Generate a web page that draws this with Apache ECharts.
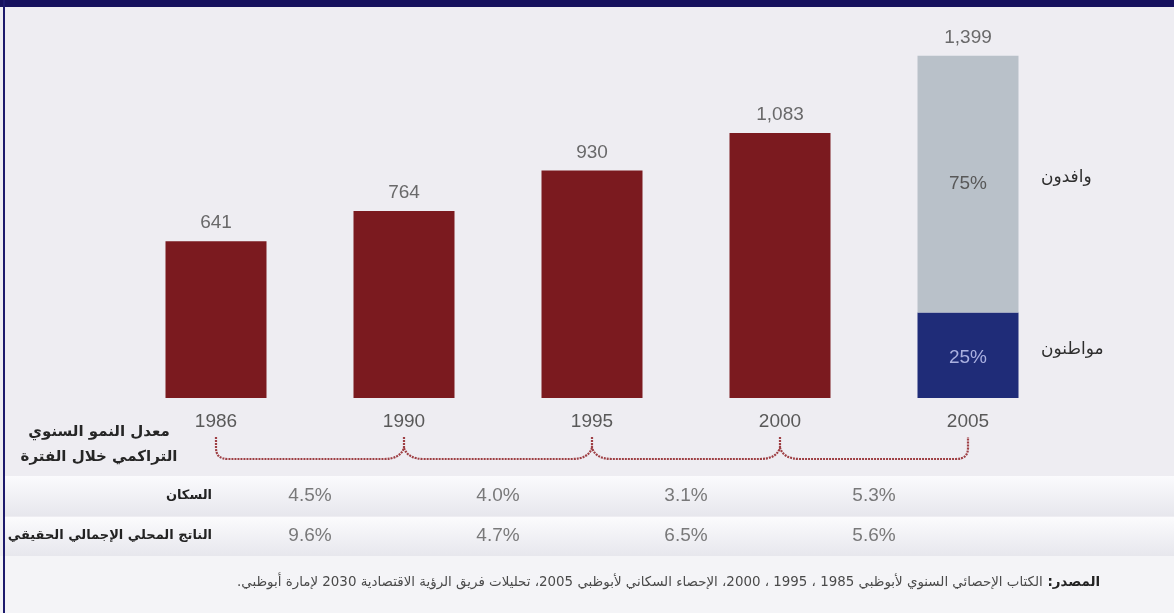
<!DOCTYPE html>
<html><head><meta charset="utf-8">
<script src="https://cdn.jsdelivr.net/npm/echarts@6/dist/echarts.min.js"></script>
<style>html,body{margin:0;padding:0;background:#eeedf2}#c{width:1174px;height:613px}</style>
</head><body><div id="c"></div>
<script>
// ---- data ----
const years = ['1986', '1990', '1995', '2000', '2005'];
const totals = [641, 764, 930, 1083, 1399];          // thousands
const citizenShare = 25;                              // % of 2005 total
const expatShare = 75;                                // % of 2005 total
const legendLabels = ['وافدون', 'مواطنون'];
const sideTitle = ['معدل النمو السنوي', 'التراكمي خلال الفترة'];
const rowLabels = ['السكان', 'الناتج المحلي الإجمالي الحقيقي'];
const popGrowth = [4.5, 4.0, 3.1, 5.3];
const gdpGrowth = [9.6, 4.7, 6.5, 5.6];
const sourceHead = 'المصدر:';
const sourceBody = 'الكتاب الإحصائي السنوي لأبوظبي 1985 ، 1995 ، 2000، الإحصاء السكاني لأبوظبي 2005، تحليلات فريق الرؤية الاقتصادية 2030 لإمارة أبوظبي.';

const RLE = '\u202B', PDF = '\u202C';
const AR = "'DejaVu Sans'";
const LAT = "'Liberation Sans', Arial, sans-serif";
const CLEAR = 'rgba(0,0,0,0)';

const n = years.length;
const redData = totals.map((v, i) => i < n - 1 ? v : '-');
const citData = totals.map((v, i) => i === n - 1 ? v * citizenShare / 100 : '-');
const expData = totals.map((v, i) => i === n - 1 ? v * expatShare / 100 : '-');

const chart = echarts.init(document.getElementById('c'), null, {renderer: 'canvas'});

function bandGrad() {
  return new echarts.graphic.LinearGradient(0, 0, 0, 1, [
    {offset: 0, color: '#fbfbfd'}, {offset: 1, color: '#e7e7ed'}
  ]);
}

const option = {
  animation: false,
  backgroundColor: '#eeedf2',
  grid: [
    {left: 122, right: 112, top: 31, bottom: 215, containLabel: false, outerBoundsMode: 'none'},
    {left: 122, right: 112, top: 476, height: 80, containLabel: false, outerBoundsMode: 'none'}
  ],
  xAxis: [
    {type: 'category', gridIndex: 0, data: years, boundaryGap: true,
     axisLine: {show: false}, axisTick: {show: false}, splitLine: {show: false},
     axisLabel: {margin: 14, fontSize: 19, color: '#595959', fontFamily: LAT}},
    {type: 'value', gridIndex: 1, min: -0.5, max: n - 0.5, show: false}
  ],
  yAxis: [
    {type: 'value', gridIndex: 0, min: 0, max: 1500, show: false},
    {type: 'category', gridIndex: 1, data: rowLabels, inverse: true,
     axisLine: {show: false}, axisTick: {show: false}, splitLine: {show: false},
     axisLabel: {margin: -90, fontSize: 13, fontWeight: 'bold', color: '#222', fontFamily: AR, align: 'right'}}
  ],
  series: [
    {type: 'bar', name: 'total', stack: 'pop', data: redData, barWidth: 101,
     itemStyle: {color: '#7b1a1f'}},
    {type: 'bar', name: legendLabels[1], stack: 'pop', data: citData, barWidth: 101,
     itemStyle: {color: '#1f2c78'},
     label: {show: true, position: 'inside', offset: [0, 3], formatter: citizenShare + '%', fontSize: 19, color: '#aab0e0', fontFamily: LAT}},
    {type: 'bar', name: legendLabels[0], stack: 'pop', data: expData, barWidth: 101,
     itemStyle: {color: '#b9c1c9'},
     label: {show: true, position: 'inside', formatter: expatShare + '%', fontSize: 19, color: '#585858', fontFamily: LAT}},
    {type: 'scatter', data: totals, symbolSize: 1, itemStyle: {color: CLEAR}, z: 5,
     label: {show: true, position: 'top', distance: 8, fontSize: 19, color: '#474747', fontFamily: LAT,
             formatter: p => p.value.toLocaleString('en-US')}},
    {type: 'custom', xAxisIndex: 0, yAxisIndex: 0, data: [[0, 0]], clip: false, z: 3,
     renderItem: function (params, api) {
       const xs = years.map((_, i) => api.coord([i, 0])[0]);
       const y0 = api.coord([0, 0])[1];
       const tTop = y0 + 39, cusp = y0 + 50, line = y0 + 61, r = 12;
       let d = 'M' + xs[0] + ',' + tTop + ' L' + xs[0] + ',' + cusp +
               ' Q' + xs[0] + ',' + line + ' ' + (xs[0] + r) + ',' + line;
       for (let i = 1; i < xs.length - 1; i++) {
         const x = xs[i];
         d += ' L' + (x - 2 * r + 4) + ',' + line +
              ' Q' + (x - 4) + ',' + line + ' ' + x + ',' + cusp +
              ' Q' + (x + 4) + ',' + line + ' ' + (x + 2 * r - 4) + ',' + line;
       }
       const xl = xs[xs.length - 1];
       d += ' L' + (xl - r) + ',' + line + ' Q' + xl + ',' + line + ' ' + xl + ',' + cusp +
            ' L' + xl + ',' + tTop;
       for (let i = 1; i < xs.length - 1; i++) {
         d += ' M' + xs[i] + ',' + tTop + ' L' + xs[i] + ',' + cusp;
       }
       return {type: 'path', shape: {pathData: d},
               style: {fill: null, stroke: '#9e3f44', lineWidth: 2.2, lineDash: [2, 1]}};
     }},
    {type: 'scatter', xAxisIndex: 1, yAxisIndex: 1, symbolSize: 1, itemStyle: {color: CLEAR},
     data: popGrowth.map((v, i) => [i + 0.5, 0, v]).concat(gdpGrowth.map((v, i) => [i + 0.5, 1, v])),
     label: {show: true, position: 'inside', fontSize: 19, color: '#5a5a5a', fontFamily: LAT,
             formatter: p => p.value[2].toFixed(1) + '%'}}
  ],
  graphic: [
    {type: 'rect', z: 0, silent: true, shape: {x: 0, y: 556, width: 1174, height: 57}, style: {fill: '#f4f4f7'}},
    {type: 'rect', z: 0, silent: true, shape: {x: 5, y: 476, width: 1169, height: 40}, style: {fill: bandGrad()}},
    {type: 'rect', z: 0, silent: true, shape: {x: 5, y: 517, width: 1169, height: 39}, style: {fill: bandGrad()}},
    {type: 'rect', z: 10, silent: true, shape: {x: 0, y: 0, width: 1174, height: 7}, style: {fill: '#16115e'}},
    {type: 'rect', z: 10, silent: true, shape: {x: 3, y: 0, width: 2, height: 613}, style: {fill: '#1d1a6c'}},
    {type: 'text', z: 10, x: 1041, y: 178, style: {text: legendLabels[0], font: '17px ' + AR, fill: '#2e2e2e', textAlign: 'left', textVerticalAlign: 'middle'}},
    {type: 'text', z: 10, x: 1041, y: 350, style: {text: legendLabels[1], font: '17px ' + AR, fill: '#2e2e2e', textAlign: 'left', textVerticalAlign: 'middle'}},
    {type: 'text', z: 10, x: 99, y: 432, style: {text: sideTitle[0], font: 'bold 15px ' + AR, fill: '#262626', textAlign: 'center', textVerticalAlign: 'middle'}},
    {type: 'text', z: 10, x: 99, y: 457, style: {text: sideTitle[1], font: 'bold 15px ' + AR, fill: '#262626', textAlign: 'center', textVerticalAlign: 'middle'}},
    {type: 'text', z: 10, x: 1100, y: 583, style: {
      text: '{r|' + RLE + sourceBody + PDF + '}{b|' + RLE + sourceHead + '\u00A0' + PDF + '}',
      textAlign: 'right', textVerticalAlign: 'middle',
      rich: {r: {font: '13.4px ' + AR, fill: '#4a4a4a'}, b: {font: 'bold 13.4px ' + AR, fill: '#222'}}}}
  ]
};
chart.setOption(option);
</script>
</body></html>
